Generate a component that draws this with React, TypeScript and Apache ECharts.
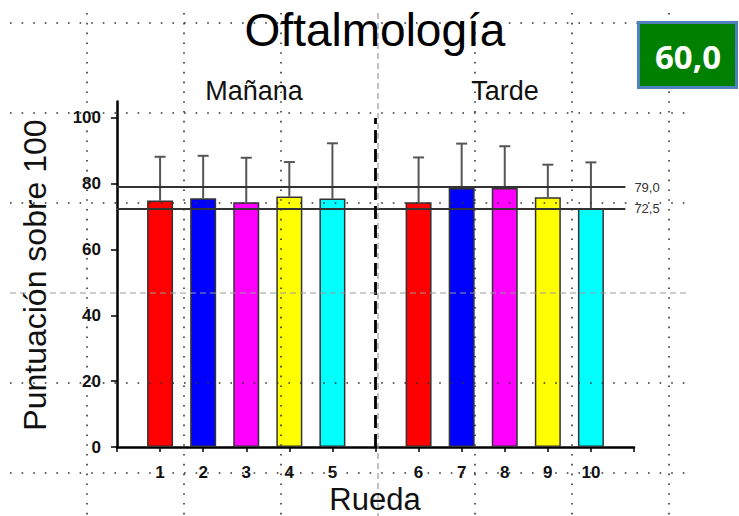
import React, { useEffect, useRef } from 'react';
import * as echarts from 'echarts';

const title = 'Oftalmología';
const groups = ['Mañana', 'Tarde'];
const groupSize = 5;
const categories = ['1', '2', '3', '4', '5', '6', '7', '8', '9', '10'];
const means = [74.9, 75.6, 74.4, 76.1, 75.5, 74.4, 78.7, 78.7, 75.9, 72.5];
const upper = [88.2, 88.5, 87.9, 86.6, 92.3, 88.0, 92.2, 91.4, 85.8, 86.5];
const colors = ['#ff0000', '#0000ff', '#ff00ff', '#ffff00', '#00ffff', '#ff0000', '#0000ff', '#ff00ff', '#ffff00', '#00ffff'];
const refValues = [79.0, 72.5];
const refLabels = ['79,0', '72,5'];
const yTicks = [0, 20, 40, 60, 80, 100];
const badge = '60,0';
const yTitle = 'Puntuación sobre 100';
const xTitle = 'Rueda';

const positions = categories.map((_, i) => i + 1 + Math.floor(i / groupSize));
const xMax = categories.length + groups.length;
const dividerPos = groupSize + 1;
const xTickValues = Array.from({ length: xMax + 1 }, (_, i) => i);

const FONT = 'Liberation Sans, Arial, sans-serif';

export default function App() {
  const ref = useRef<HTMLDivElement>(null);
  useEffect(() => {
    if (!ref.current) return;
    const chart = echarts.init(ref.current, null, { renderer: 'svg' });

    const vLines = [87, 184, 281, 378, 475, 572, 669];
    const hLines = [23, 113, 203, 293, 383, 473];
    const gridGraphics: any[] = [];
    vLines.forEach((x) => {
      const center = x === 378;
      gridGraphics.push({
        type: 'line',
        z: 50,
        silent: true,
        shape: { x1: x, y1: 13, x2: x, y2: 516 },
        style: center
          ? { stroke: '#9a9a9a', lineWidth: 1.2, lineDash: [6, 4] }
          : { stroke: '#333', lineWidth: 1.6, lineDash: [1.6, 8.2] },
      });
    });
    hLines.forEach((y) => {
      const center = y === 293;
      gridGraphics.push({
        type: 'line',
        z: 50,
        silent: true,
        shape: { x1: 10, y1: y, x2: 688, y2: y },
        style: center
          ? { stroke: '#9a9a9a', lineWidth: 1.2, lineDash: [6, 4] }
          : { stroke: '#333', lineWidth: 1.6, lineDash: [1.6, 10] },
      });
    });

    const option: any = {
      animation: false,
      backgroundColor: '#fff',
      grid: { left: 117, right: 105, top: 101.5, bottom: 69, containLabel: false },
      xAxis: {
        type: 'value',
        min: 0,
        max: xMax,
        interval: 1,
        splitLine: { show: false },
        axisLine: { show: true, lineStyle: { color: '#000', width: 2.5 } },
        axisTick: { show: true, customValues: xTickValues, length: 5, lineStyle: { color: '#000', width: 1.5 } },
        axisLabel: {
          show: true,
          customValues: positions,
          margin: 17,
          fontSize: 17,
          fontWeight: 'bold',
          fontFamily: FONT,
          color: '#111',
          formatter: (v: number) => {
            const i = positions.indexOf(v);
            return i >= 0 ? categories[i] : '';
          },
        },
      },
      yAxis: {
        type: 'value',
        min: 0,
        max: 105,
        interval: 20,
        splitLine: { show: false },
        axisLine: { show: true, lineStyle: { color: '#000', width: 2.5 } },
        axisTick: { show: true, customValues: yTicks, length: 6, lineStyle: { color: '#000', width: 1.5 } },
        axisLabel: {
          show: true,
          customValues: yTicks,
          margin: 16,
          fontSize: 17,
          fontWeight: 'bold',
          fontFamily: FONT,
          color: '#111',
          formatter: (v: number) => (yTicks.indexOf(v) >= 0 ? String(v) : ''),
        },
      },
      series: [
        {
          type: 'bar',
          barWidth: 26,
          z: 2,
          data: means.map((m, i) => ({
            value: [positions[i], m],
            itemStyle: { color: colors[i], borderColor: '#333', borderWidth: 1.5 },
          })),
          markLine: {
            silent: true,
            symbol: 'none',
            z: 5,
            lineStyle: { color: '#333', width: 2, type: 'solid' },
            label: {
              show: true,
              position: 'end',
              distance: 9,
              fontSize: 13,
              fontFamily: FONT,
              color: '#333',
              formatter: (p: any) => refLabels[p.dataIndex],
            },
            data: refValues.map((v) => [{ coord: [0, v] }, { coord: [11.8, v] }]),
          },
        },
        {
          type: 'custom',
          z: 3,
          data: means.map((m, i) => [positions[i], m, upper[i]]),
          renderItem: (params: any, api: any) => {
            const x = api.value(0);
            const m = api.value(1);
            const u = api.value(2);
            const p0 = api.coord([x, m]);
            const p1 = api.coord([x, u]);
            const st = { stroke: '#555', lineWidth: 2 };
            return {
              type: 'group',
              children: [
                { type: 'line', shape: { x1: p0[0], y1: p0[1], x2: p1[0], y2: p1[1] }, style: st },
                { type: 'line', shape: { x1: p1[0] - 5.5, y1: p1[1], x2: p1[0] + 5.5, y2: p1[1] }, style: st },
              ],
            };
          },
        },
        {
          type: 'line',
          data: [],
          markLine: {
            silent: true,
            symbol: 'none',
            label: { show: false },
            lineStyle: { color: '#000', width: 2.8, type: [13, 6] },
            data: [[{ coord: [dividerPos, 0] }, { coord: [dividerPos, 100] }]],
          },
        },
      ],
      graphic: [
        ...gridGraphics,
        {
          type: 'text',
          z: 60,
          x: 375,
          y: 30,
          style: { text: title, font: `46px ${FONT}`, fill: '#000', align: 'center', verticalAlign: 'middle' },
        },
        {
          type: 'text',
          z: 60,
          x: 254,
          y: 91,
          style: { text: groups[0], font: `27px ${FONT}`, fill: '#111', align: 'center', verticalAlign: 'middle' },
        },
        {
          type: 'text',
          z: 60,
          x: 505,
          y: 91,
          style: { text: groups[1], font: `27px ${FONT}`, fill: '#111', align: 'center', verticalAlign: 'middle' },
        },
        {
          type: 'text',
          z: 60,
          x: 375,
          y: 499,
          style: { text: xTitle, font: `31px ${FONT}`, fill: '#111', align: 'center', verticalAlign: 'middle' },
        },
        {
          type: 'text',
          z: 60,
          x: 35,
          y: 275,
          rotation: Math.PI / 2,
          style: { text: yTitle, font: `32px ${FONT}`, fill: '#111', align: 'center', verticalAlign: 'middle' },
        },
        {
          type: 'rect',
          z: 70,
          shape: { x: 638.5, y: 22.5, width: 98, height: 65 },
          style: { fill: '#008000', stroke: '#4f81bd', lineWidth: 3 },
        },
        {
          type: 'text',
          z: 71,
          x: 688,
          y: 56,
          style: { text: badge, font: `bold 33px "Open Sans", sans-serif`, fill: '#fff', align: 'center', verticalAlign: 'middle' },
        },
      ],
    };
    chart.setOption(option);
    return () => chart.dispose();
  }, []);
  return <div ref={ref} style={{ width: 739, height: 516, position: 'absolute', left: 0, top: 0 }} />;
}
